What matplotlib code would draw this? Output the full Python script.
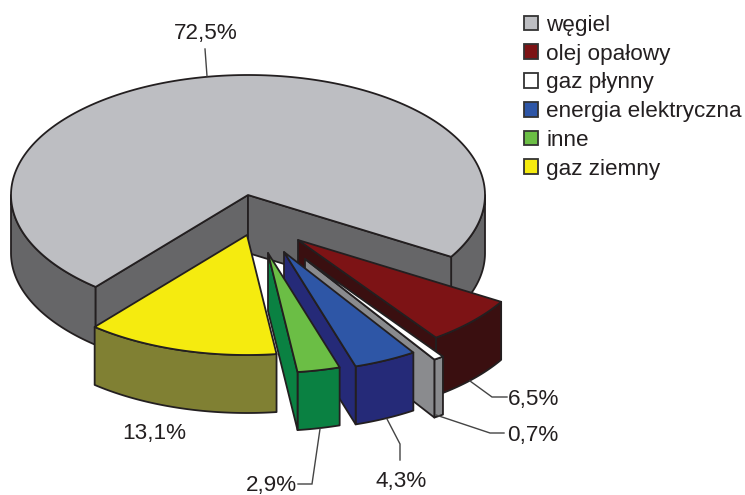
import numpy as np
from matplotlib import pyplot as plt
from matplotlib.patches import Patch, Polygon

plt.rcParams['font.family'] = ['Liberation Sans', 'DejaVu Sans']

# order follows the way round the pie, starting at the right hand cut of the coal slice
names = ["olej opałowy", "gaz płynny", "energia elektryczna", "inne", "gaz ziemny", "węgiel"]
values = [6.5, 0.7, 4.3, 2.9, 13.1, 72.5]
labels = ["6,5%", "0,7%", "4,3%", "2,9%", "13,1%", "72,5%"]
top_colours = ["#7d1315", "#ffffff", "#2e56a6", "#6bbe45", "#f5eb0f", "#bdbec2"]
side_colours = ["#3a0f10", "#8a8b8e", "#252a78", "#0a8142", "#808033", "#666668"]
legend_order = ["węgiel", "olej opałowy", "gaz płynny", "energia elektryczna", "inne", "gaz ziemny"]

ink = "#231f20"
cx, cy = 248, 195
rx, ry = 237, 120
depth = 58
start = 31
# where each apex ends up, relative to the centre of the pie
shifts = [(50, 45), (57, 64), (36, 57), (20, 58), (-1, 40), (0, 0)]


def rim(t, dx=0, dy=0):
    t = np.radians(t)
    return np.column_stack([cx + dx + rx * np.cos(t), cy + dy + ry * np.sin(t)])


def add(ax, pts, colour):
    ax.add_patch(Polygon(pts, closed=True, facecolor=colour, edgecolor=ink, lw=1.3, joinstyle='round'))


def draw_slice(ax, a, b, top, side, dx, dy):
    apex = np.array([cx + dx, cy + dy])
    down = np.array([0, depth])
    # outer wall, only the part that faces the viewer
    for lo, hi in [(a, min(b, 180)), (max(a, 360), b)]:
        if hi > lo:
            t = np.linspace(lo, hi, 80)
            arc = rim(t, dx, dy)
            add(ax, np.vstack([arc, arc[::-1] + down]), side)
    # cut faces, skip the ones turned away from the viewer
    if np.cos(np.radians(a)) < 0:
        p = rim([a], dx, dy)[0]
        add(ax, [apex, p, p + down, apex + down], side)
    if np.cos(np.radians(b)) > 0:
        p = rim([b], dx, dy)[0]
        add(ax, [apex, p, p + down, apex + down], side)
    arc = rim(np.linspace(a, b, 200), dx, dy)
    add(ax, np.vstack([apex, arc]), top)


fig = plt.figure(figsize=(7.45, 4.95), dpi=100)
ax = fig.add_axes([0, 0, 1, 1])
ax.set_xlim(0, 745)
ax.set_ylim(495, 0)
ax.axis('off')

edges = start + np.concatenate([[0], np.cumsum(values)]) * 3.6
# coal goes first since everything else sits in front of it
order = [5, 0, 1, 2, 3, 4]
for i in order:
    draw_slice(ax, edges[i], edges[i + 1], top_colours[i], side_colours[i], *shifts[i])

# leader lines and percentages
leaders = [
    [(470, 381), (492, 397), (507, 397)],
    [(436, 415), (490, 433), (504, 433)],
    [(387, 419), (400, 444), (400, 460)],
    [(320, 429), (312, 484), (298, 484)],
    None,
    [(205, 49), (207, 76)],
]
label_pos = [(534, 399), (533, 435), (401, 481), (271, 486), (154, 433), (206, 33)]
for line, text, pos in zip(leaders, labels, label_pos):
    if line:
        ax.plot(*zip(*line), color="#444444", lw=1.0, solid_joinstyle='miter')
    ax.text(pos[0], pos[1], text, ha='center', va='center', fontsize=16.2, color=ink)

handles = []
for name in legend_order:
    i = names.index(name)
    handles.append(Patch(facecolor=top_colours[i], edgecolor="#333333", lw=1.3, label=name))
ax.legend(handles=handles, loc='upper left', bbox_to_anchor=(0.7034, 0.970), frameon=False,
          fontsize=16.2, labelcolor=ink, handlelength=0.62, handleheight=0.62,
          handletextpad=0.36, labelspacing=0.345, borderpad=0, borderaxespad=0)

fig.savefig("out.png", dpi=100)
